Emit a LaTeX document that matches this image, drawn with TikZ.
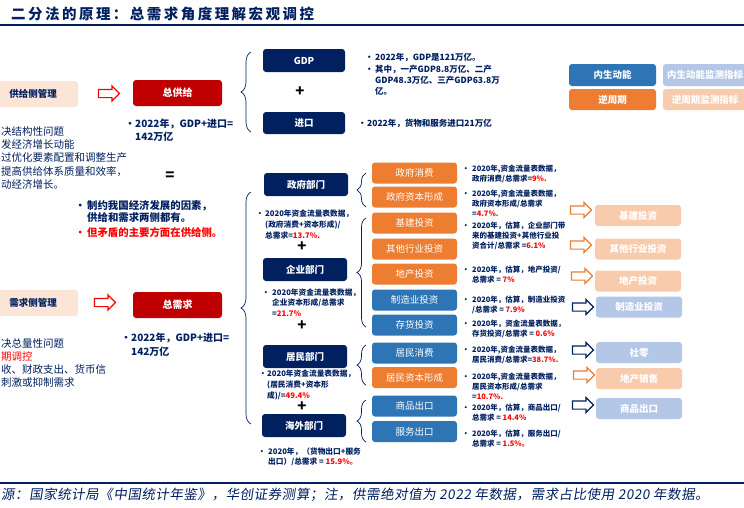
\documentclass[tikz,border=0pt]{standalone}
\usepackage{fontspec}
\setmainfont{Noto Sans CJK SC}
\newfontfamily\titlefont[LetterSpace=17]{Noto Sans CJK SC}
\newfontfamily\notefont[FakeSlant=0.15,LetterSpace=4]{Noto Sans CJK SC}
\usetikzlibrary{shapes.arrows,decorations.pathreplacing}

\definecolor{navy}{RGB}{0,32,96}
\definecolor{darkred}{RGB}{192,0,0}
\definecolor{brightred}{RGB}{255,0,0}
\definecolor{ochre}{RGB}{237,125,49}
\definecolor{steel}{RGB}{46,117,182}
\definecolor{paleblue}{RGB}{180,199,231}
\definecolor{paleorange}{RGB}{248,203,173}
\definecolor{peach}{RGB}{251,229,214}

\newcommand\redpct[1]{\textcolor{brightred}{#1}}
\newcommand\blt[1][9pt]{\makebox[#1][l]{•}}
\newcommand\bltpad[1][9pt]{\hspace*{#1}}

\tikzset{
  box/.style={rounded corners=3pt, inner sep=0pt, minimum height=21pt, text=white},
  sectorbox/.style={box, fill=navy, minimum width=84pt, minimum height=23pt, font=\bfseries\fontsize{9.5}{11}\selectfont},
  partbox/.style={box, minimum width=85pt, font=\fontsize{9.5}{11}\selectfont},
  orangebox/.style={partbox, fill=ochre},
  bluebox/.style={partbox, fill=steel},
  gaugebox/.style={box, minimum width=86pt, font=\bfseries\fontsize{9.5}{11}\selectfont},
  sidebox/.style={box, fill=peach, text=navy, minimum width=90pt, minimum height=26pt, font=\bfseries\fontsize{9.5}{11}\selectfont},
  totalbox/.style={box, fill=darkred, minimum width=89pt, minimum height=26pt, font=\bfseries\fontsize{10}{12}\selectfont},
  note/.style={anchor=north west, inner sep=0pt, align=left, text=navy, font=\bfseries\fontsize{7.5}{10}\selectfont},
  hollow/.style={single arrow, draw=#1, fill=white, line width=1.2pt, minimum height=21pt, inner ysep=3.5pt, inner xsep=0pt, single arrow head extend=3.5pt},
  grp/.style={draw=navy, line width=0.7pt, decorate, decoration={brace, amplitude=#1}},
  plus/.style={font=\bfseries\fontsize{15}{15}\selectfont},
}

\begin{document}
\begin{tikzpicture}[x=1pt,y=-1pt]
\fill[white] (0,0) rectangle (744,507);
\useasboundingbox (0,0) rectangle (744,507);

% title and rules
\node[anchor=west, inner sep=0pt, text=navy, font=\titlefont\bfseries\fontsize{14.5}{16}\selectfont] (title) at (11,14) {二分法的原理：总需求角度理解宏观调控};
\draw[navy, line width=2pt] (0,25) -- (744,25);
\draw[navy, line width=1.5pt] (0,483) -- (744,483);
\node[anchor=west, inner sep=0pt, text=navy, font=\notefont\fontsize{13.5}{15}\selectfont] (source) at (1,495) {源：国家统计局《中国统计年鉴》，华创证券测算；注，供需绝对值为 2022 年数据，需求占比使用 2020 年数据。};

% legend
\node[box, fill=steel, minimum width=87pt, minimum height=22pt, font=\bfseries\fontsize{9.5}{11}\selectfont] (keyendo) at (612.5,75) {内生动能};
\node[box, fill=paleblue, minimum width=92pt, minimum height=22pt, font=\bfseries\fontsize{9.5}{11}\selectfont] (keyendogauge) at (709,75) {\hspace*{-8pt}内生动能监测指标};
\node[box, fill=ochre, minimum width=87pt, font=\bfseries\fontsize{9.5}{11}\selectfont] (keycycle) at (612.5,99.5) {逆周期};
\node[box, fill=paleorange, minimum width=92pt, font=\bfseries\fontsize{9.5}{11}\selectfont] (keycyclegauge) at (709,99.5) {\hspace*{-8pt}逆周期监测指标};

% supply side
\node[sidebox] (supplymgmt) at (33,94) {供给侧管理};
\node[hollow=brightred] (supplyarrow) at (107,93.5) {};
\node[totalbox] (supply) at (177.5,93) {总供给};
\node[note, font=\bfseries\fontsize{10}{13}\selectfont] (supplyval) at (125,118.5) {\blt[10pt]2022年，GDP+进口=\\\bltpad[10pt]142万亿};
\node[anchor=north west, inner sep=0pt, align=left, text=navy, font=\fontsize{10.5}{13.3}\selectfont] (supplyaims) at (1,126.3)
  {决结构性问题\\发经济增长动能\\过优化要素配置和调整生产\\提高供给体系质量和效率，\\动经济增长。};
\node[font=\bfseries\fontsize{15}{15}\selectfont] (equals) at (170,176) {=};
\node[note, font=\bfseries\fontsize{10.4}{12.5}\selectfont] (balance) at (75,200.3)
  {\blt[12pt]制约我国经济发展的因素，\\\bltpad[12pt]供给和需求两侧都有。\\[2.5pt]\textcolor{brightred}{\blt[12pt]但矛盾的主要方面在供给侧。}};

\draw[grp=10pt] (251,132) -- (251,52);
\node[sectorbox, minimum width=82pt] (gdp) at (304,60.5) {GDP};
\node[plus] (supplyplus) at (300,92) {+};
\node[sectorbox, minimum width=82pt, minimum height=22pt] (imports) at (304,123) {进口};
\node[note, font=\bfseries\fontsize{8.5}{11.4}\selectfont] (gdpnote) at (365,53.2)
  {\blt[10pt]2022年，GDP是121万亿。\\\blt[10pt]其中，一产GDP8.8万亿、二产\\\bltpad[10pt]GDP48.3万亿、三产GDP63.8万\\\bltpad[10pt]亿。};
\node[note, anchor=west, font=\bfseries\fontsize{8.5}{11}\selectfont] (importnote) at (358,123) {\blt[9pt]2022年，货物和服务进口21万亿};

% demand side
\node[sidebox] (demandmgmt) at (33,303) {需求侧管理};
\node[hollow=brightred] (demandarrow) at (103,302.5) {};
\node[totalbox] (demand) at (177.5,305) {总需求};
\node[note, font=\bfseries\fontsize{10}{14}\selectfont] (demandval) at (121,332.5) {\blt[10pt]2022年，GDP+进口=\\\bltpad[10pt]142万亿};
\node[anchor=north west, inner sep=0pt, align=left, text=navy, font=\fontsize{10.5}{13.2}\selectfont] (demandaims) at (1,338.3)
  {决总量性问题\\\textcolor{brightred}{期调控}\\收、财政支出、货币信\\刺激或抑制需求};

\draw[grp=10pt] (251,424) -- (251,192);

% sectors
\node[sectorbox] (govt) at (306,184.5) {政府部门};
\node[note, font=\bfseries\fontsize{7.7}{11}\selectfont] (govtnote) at (256,209.5)
  {\blt2020年资金流量表数据，\\\bltpad(政府消费+资本形成)/\\\bltpad 总需求=\redpct{13.7\%.}};
\node[plus] (plusa) at (302,247) {+};
\node[sectorbox] (firms) at (305,269.5) {企业部门};
\node[note, font=\bfseries\fontsize{7.7}{10.5}\selectfont] (firmsnote) at (262,288.5)
  {\blt[10pt]2020年资金流量表数据，\\\bltpad[10pt]企业资本形成/总需求\\\bltpad[10pt]=\redpct{21.7\%}};
\node[plus] (plusb) at (302,326) {+};
\node[sectorbox] (homes) at (305,356.5) {居民部门};
\node[note, font=\bfseries\fontsize{7.7}{11}\selectfont] (homesnote) at (259,370)
  {\blt[8pt]2020年资金流量表数据，\\\bltpad[8pt](居民消费+资本形\\\bltpad[8pt]成)/=\redpct{49.4\%}};
\node[plus] (plusc) at (302,407) {+};
\node[sectorbox] (abroad) at (304,425.5) {海外部门};
\node[note, font=\bfseries\fontsize{7.7}{10.5}\selectfont] (abroadnote) at (258,447.5)
  {\blt[10pt]2020年，（货物出口+服务\\\bltpad[10pt]出口）/总需求 = \redpct{15.9\%。}};

% sector braces
\draw[grp=9pt] (366,207) -- (366,173);
\draw[grp=9pt] (366,327) -- (366,218);
\draw[grp=9pt] (366,385) -- (366,345);
\draw[grp=9pt] (366,442) -- (366,400);

% components
\node[orangebox] (govcons) at (414.5,173) {政府消费};
\node[orangebox] (govcap) at (414.5,197) {政府资本形成};
\node[orangebox] (infra) at (414.5,223) {基建投资};
\node[orangebox] (otherind) at (414.5,249) {其他行业投资};
\node[orangebox] (realty) at (414.5,274) {地产投资};
\node[bluebox] (manuf) at (414.5,300) {制造业投资};
\node[bluebox] (stock) at (414.5,325) {存货投资};
\node[bluebox] (homecons) at (414.5,353) {居民消费};
\node[orangebox] (homecap) at (414.5,377.5) {居民资本形成};
\node[bluebox] (goodsexp) at (414.5,406) {商品出口};
\node[bluebox] (servexp) at (414.5,431.5) {服务出口};

% component notes
\node[note] (govconsnote) at (462,164.6) {\blt[10pt]2020年,资金流量表数据，\\\bltpad[10pt]政府消费/总需求=\redpct{9\%.}};
\node[note] (govcapnote) at (462,189.6) {\blt[10pt]2020年,资金流量表数据，\\\bltpad[10pt]政府资本形成/总需求\\\bltpad[10pt]=\redpct{4.7\%.}};
\node[note] (infranote) at (462,221.6) {\blt[10pt]2020年，估算，企业部门带\\\bltpad[10pt]来的基建投资+其他行业投\\\bltpad[10pt]资合计/总需求 =\redpct{6.1\%}};
\node[note] (realtynote) at (462,265.6) {\blt[10pt]2020年，估算，地产投资/\\\bltpad[10pt]总需求 = \redpct{7\%}};
\node[note] (manufnote) at (462,295.6) {\blt[10pt]2020年，估算，制造业投资\\\bltpad[10pt]/总需求 = \redpct{7.9\%}};
\node[note] (stocknote) at (462,319.6) {\blt[10pt]2020年，资金流量表数据，\\\bltpad[10pt]存货投资/总需求 = \redpct{0.6\%}};
\node[note] (homeconsnote) at (462,345.6) {\blt[10pt]2020年,资金流量表数据，\\\bltpad[10pt]居民消费/总需求=\redpct{38.7\%.}};
\node[note] (homecapnote) at (462,372.6) {\blt[10pt]2020年,资金流量表数据，\\\bltpad[10pt]居民资本形成/总需求\\\bltpad[10pt]=\redpct{10.7\%.}};
\node[note] (goodsexpnote) at (462,403.6) {\blt[10pt]2020年，估算，商品出口/\\\bltpad[10pt]总需求 = \redpct{14.4\%}};
\node[note] (servexpnote) at (462,429.6) {\blt[10pt]2020年，估算，服务出口/\\\bltpad[10pt]总需求 = \redpct{1.5\%。}};

% gauges
\node[hollow=ochre] (infraarrow) at (579,210) {};
\node[hollow=ochre] (otherarrow) at (579,245) {};
\node[hollow=ochre] (realtyarrow) at (580,276) {};
\node[hollow=navy] (manufarrow) at (581,307) {};
\node[hollow=navy] (retailarrow) at (581,350) {};
\node[hollow=ochre] (salesarrow) at (582,375) {};
\node[hollow=navy] (exportarrow) at (581,405) {};
\node[gaugebox, fill=paleorange] (infragauge) at (638,215.5) {基建投资};
\node[gaugebox, fill=paleorange] (othergauge) at (638,249) {其他行业投资};
\node[gaugebox, fill=paleorange] (realtygauge) at (638,281) {地产投资};
\node[gaugebox, fill=paleblue] (manufgauge) at (639,307) {制造业投资};
\node[gaugebox, fill=paleblue] (retailgauge) at (639,352.5) {社零};
\node[gaugebox, fill=paleorange] (salesgauge) at (639,378.5) {地产销售};
\node[gaugebox, fill=paleblue] (exportgauge) at (639,408.5) {商品出口};
\end{tikzpicture}
\end{document}
